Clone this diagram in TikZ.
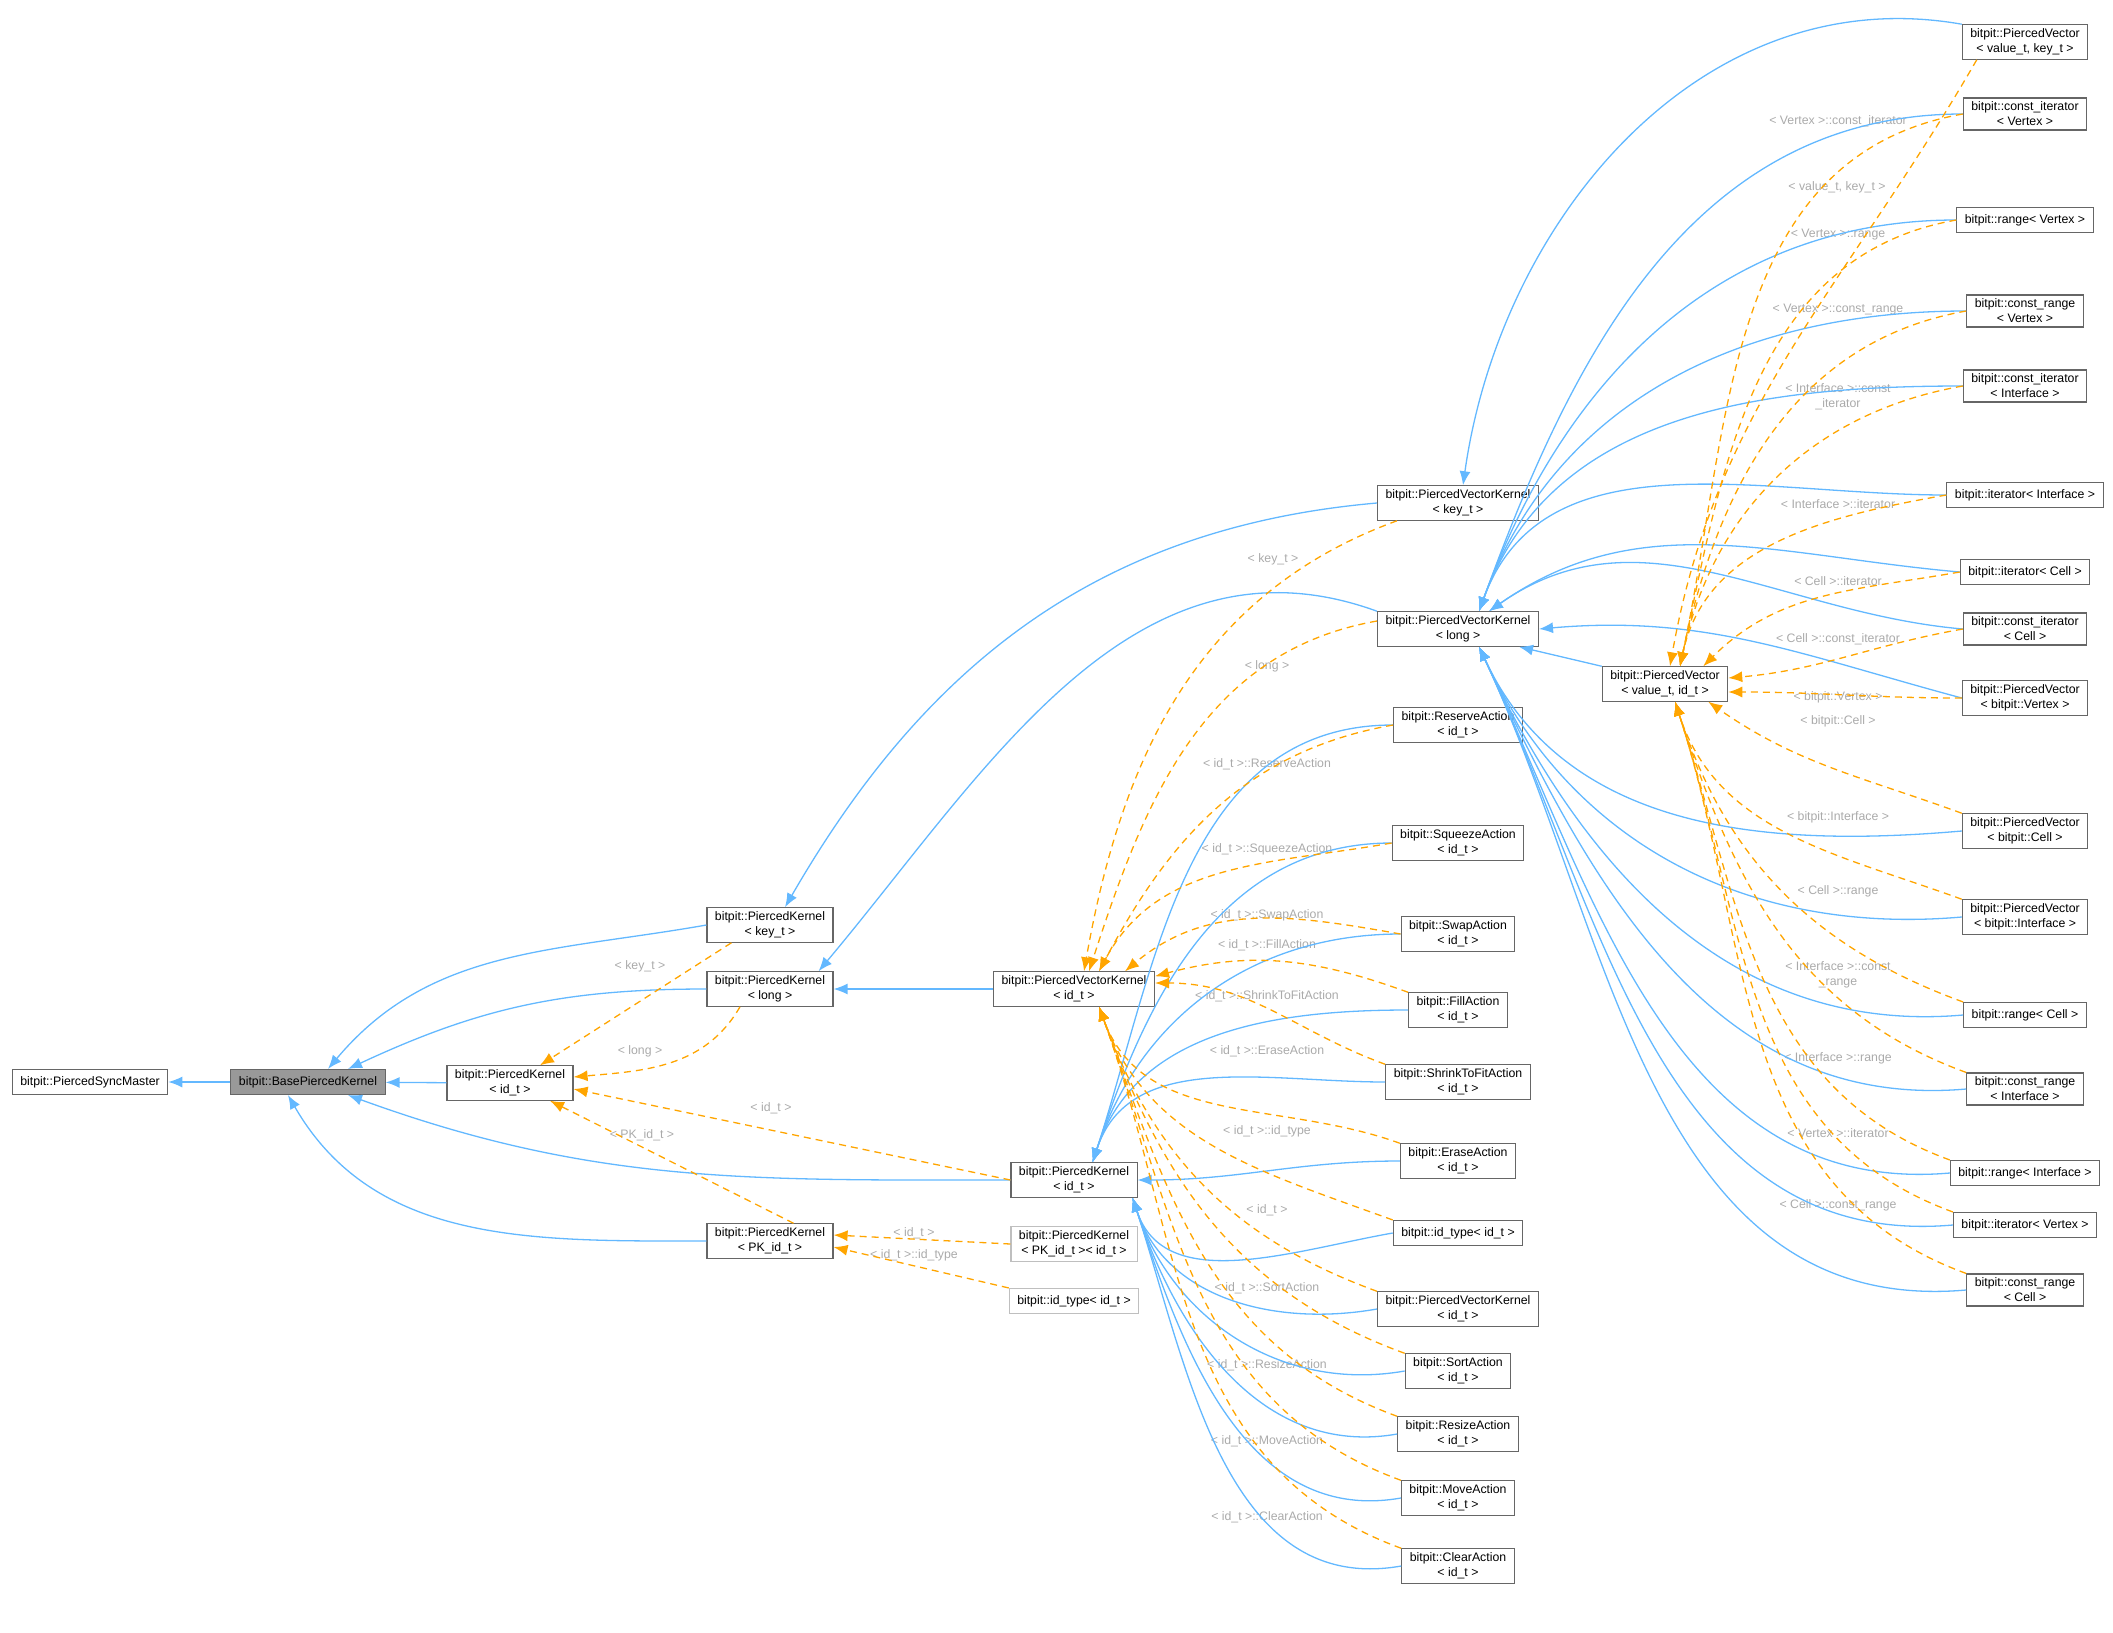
\documentclass[tikz,border=0pt]{standalone}
\usepackage{fontspec}
\setmainfont{Liberation Sans}
\usetikzlibrary{arrows.meta}
\definecolor{inh}{RGB}{99,184,255}
\definecolor{tpl}{RGB}{255,165,0}
\definecolor{lbl}{RGB}{170,170,170}
\tikzset{
  cls/.style={rectangle, draw=black!60, line width=1.1pt, fill=white, align=center, inner xsep=8pt, inner ysep=4pt, minimum height=25pt, font=\fontsize{12.3}{15}\selectfont},
  clsg/.style={cls, draw=black!25},
  inhe/.style={draw=inh, line width=1.3pt, -{Latex[length=14pt,width=11pt]}},
  dep/.style={draw=tpl, line width=1.3pt, dashed, dash pattern=on 7pt off 5pt, -{Latex[length=14pt,width=11pt]}},
  elbl/.style={text=lbl, align=center, inner sep=1pt, font=\fontsize{12.3}{15}\selectfont}
}
\begin{document}
\begin{tikzpicture}[x=1pt,y=-1pt]
  \useasboundingbox (0,0) rectangle (2113,1633);
  % left part
  \node[cls] (sync) at (90,1082) {bitpit::PiercedSyncMaster};
  \node[cls, fill=black!40] (base) at (308,1082) {bitpit::BasePiercedKernel};
  \node[cls] (pkid) at (510,1083) {bitpit::PiercedKernel\\< id\_t >};
  \node[cls] (pkkey) at (770,925) {bitpit::PiercedKernel\\< key\_t >};
  \node[cls] (pklong) at (770,989) {bitpit::PiercedKernel\\< long >};
  \node[cls] (pkpk) at (770,1241) {bitpit::PiercedKernel\\< PK\_id\_t >};
  \node[clsg] (pkpkid) at (1074,1244) {bitpit::PiercedKernel\\< PK\_id\_t >< id\_t >};
  \node[clsg] (idtypeg) at (1074,1301) {bitpit::id\_type< id\_t >};
  \node[cls] (pvkid) at (1074,989) {bitpit::PiercedVectorKernel\\< id\_t >};
  \node[cls] (pkidm) at (1074,1180) {bitpit::PiercedKernel\\< id\_t >};
  % middle column
  \node[cls] (pvkkey) at (1458,503) {bitpit::PiercedVectorKernel\\< key\_t >};
  \node[cls] (pvklong) at (1458,629) {bitpit::PiercedVectorKernel\\< long >};
  \node[cls] (pvid) at (1665,684) {bitpit::PiercedVector\\< value\_t, id\_t >};
  \node[cls] (reserve) at (1458,725) {bitpit::ReserveAction\\< id\_t >};
  \node[cls] (squeeze) at (1458,843) {bitpit::SqueezeAction\\< id\_t >};
  \node[cls] (swap) at (1458,934) {bitpit::SwapAction\\< id\_t >};
  \node[cls] (fill) at (1458,1010) {bitpit::FillAction\\< id\_t >};
  \node[cls] (shrink) at (1458,1082) {bitpit::ShrinkToFitAction\\< id\_t >};
  \node[cls] (erase) at (1458,1161) {bitpit::EraseAction\\< id\_t >};
  \node[cls] (idtype) at (1458,1233) {bitpit::id\_type< id\_t >};
  \node[cls] (pvkidr) at (1458,1309) {bitpit::PiercedVectorKernel\\< id\_t >};
  \node[cls] (sort) at (1458,1371) {bitpit::SortAction\\< id\_t >};
  \node[cls] (resize) at (1458,1434) {bitpit::ResizeAction\\< id\_t >};
  \node[cls] (move) at (1458,1498) {bitpit::MoveAction\\< id\_t >};
  \node[cls] (clear) at (1458,1566) {bitpit::ClearAction\\< id\_t >};
  % right column
  \node[cls] (pvkeyv) at (2025,42) {bitpit::PiercedVector\\< value\_t, key\_t >};
  \node[cls] (civ) at (2025,114) {bitpit::const\_iterator\\< Vertex >};
  \node[cls] (rv) at (2025,220) {bitpit::range< Vertex >};
  \node[cls] (crv) at (2025,311) {bitpit::const\_range\\< Vertex >};
  \node[cls] (cii) at (2025,386) {bitpit::const\_iterator\\< Interface >};
  \node[cls] (ii) at (2025,495) {bitpit::iterator< Interface >};
  \node[cls] (ic) at (2025,572) {bitpit::iterator< Cell >};
  \node[cls] (cic) at (2025,629) {bitpit::const\_iterator\\< Cell >};
  \node[cls] (pvv) at (2025,698) {bitpit::PiercedVector\\< bitpit::Vertex >};
  \node[cls] (pvc) at (2025,831) {bitpit::PiercedVector\\< bitpit::Cell >};
  \node[cls] (pvi) at (2025,917) {bitpit::PiercedVector\\< bitpit::Interface >};
  \node[cls] (rc) at (2025,1015) {bitpit::range< Cell >};
  \node[cls] (cri) at (2025,1089) {bitpit::const\_range\\< Interface >};
  \node[cls] (ri) at (2025,1173) {bitpit::range< Interface >};
  \node[cls] (iv) at (2025,1225) {bitpit::iterator< Vertex >};
  \node[cls] (crc) at (2025,1290) {bitpit::const\_range\\< Cell >};
  %
  % edge labels
  \node[elbl] (lkey) at (640,966) {< key\_t >};
  \node[elbl] (llong) at (640,1051) {< long >};
  \node[elbl] (lid) at (771,1108) {< id\_t >};
  \node[elbl] (lpk) at (642,1135) {< PK\_id\_t >};
  \node[elbl] (lpkid) at (914,1233) {< id\_t >};
  \node[elbl] (lpktype) at (914,1255) {< id\_t >::id\_type};
  \node[elbl] (lvkey) at (1273,559) {< key\_t >};
  \node[elbl] (lvlong) at (1267,666) {< long >};
  \node[elbl] (lres) at (1267,764) {< id\_t >::ReserveAction};
  \node[elbl] (lsq) at (1267,849) {< id\_t >::SqueezeAction};
  \node[elbl] (lsw) at (1267,915) {< id\_t >::SwapAction};
  \node[elbl] (lfi) at (1267,945) {< id\_t >::FillAction};
  \node[elbl] (lsh) at (1267,996) {< id\_t >::ShrinkToFitAction};
  \node[elbl] (ler) at (1267,1051) {< id\_t >::EraseAction};
  \node[elbl] (lty) at (1267,1131) {< id\_t >::id\_type};
  \node[elbl] (lvk) at (1267,1210) {< id\_t >};
  \node[elbl] (lso) at (1267,1288) {< id\_t >::SortAction};
  \node[elbl] (lrs) at (1267,1365) {< id\_t >::ResizeAction};
  \node[elbl] (lmo) at (1267,1441) {< id\_t >::MoveAction};
  \node[elbl] (lcl) at (1267,1517) {< id\_t >::ClearAction};
  \node[elbl] (lciv) at (1838,121) {< Vertex >::const\_iterator};
  \node[elbl] (lvk2) at (1837,187) {< value\_t, key\_t >};
  \node[elbl] (lrv) at (1838,235) {< Vertex >::range};
  \node[elbl] (lcrv) at (1838,310) {< Vertex >::const\_range};
  \node[elbl] (lcii) at (1838,397) {< Interface >::const\\\_iterator};
  \node[elbl] (lii) at (1838,504) {< Interface >::iterator};
  \node[elbl] (lic) at (1838,581) {< Cell >::iterator};
  \node[elbl] (lcic) at (1838,639) {< Cell >::const\_iterator};
  \node[elbl] (lpvv) at (1838,697) {< bitpit::Vertex >};
  \node[elbl] (lpvc) at (1838,721) {< bitpit::Cell >};
  \node[elbl] (lpvi) at (1838,817) {< bitpit::Interface >};
  \node[elbl] (lrc) at (1838,891) {< Cell >::range};
  \node[elbl] (lcri) at (1838,975) {< Interface >::const\\\_range};
  \node[elbl] (lri) at (1838,1058) {< Interface >::range};
  \node[elbl] (liv) at (1838,1133) {< Vertex >::iterator};
  \node[elbl] (lcrc) at (1838,1205) {< Cell >::const\_range};
  %
  % inheritance
  \draw[inhe] (base) -- (sync);
  \draw[inhe] (pkid) -- (base);
  \draw[inhe] (pkkey.west) to[out=190,in=50] ([xshift=20pt]base.north);
  \draw[inhe] (pklong.west) to[out=180,in=25] ([xshift=40pt]base.north);
  \draw[inhe] (pkidm.west) to[out=180,in=-20] ([xshift=40pt]base.south);
  \draw[inhe] (pkpk.west) to[out=180,in=-60] ([xshift=-20pt]base.south);
  \draw[inhe] (pvkkey.west) to[out=185,in=60] ([xshift=15pt]pkkey.north);
  \draw[inhe] (pvklong.north west) to[out=160,in=50] ([xshift=-15pt]pklong.north east);
  \draw[inhe] (pvkid) -- (pklong);
  \draw[inhe] (pvkeyv.north west) to[out=170,in=82] ([xshift=5pt]pvkkey.north);
  \draw[inhe] (pvid.north west) -- ([xshift=-20pt]pvklong.south east);
  \foreach \s in {civ,rv,crv,cii,ii}
    \draw[inhe] (\s.west) to[out=180,in=70] ([xshift=-60pt]pvklong.north east);
  \foreach \s in {ic,cic}
    \draw[inhe] (\s.west) to[out=175,in=35] ([xshift=-50pt]pvklong.north east);
  \draw[inhe] (pvv.west) to[out=165,in=5] (pvklong.east);
  \foreach \s in {pvc,pvi,rc,cri,ri,iv,crc}
    \draw[inhe] (\s.west) to[out=185,in=-65] ([xshift=-60pt]pvklong.south east);
  \foreach \s in {reserve,squeeze,swap,fill,shrink}
    \draw[inhe] (\s.west) to[out=180,in=72] ([xshift=-45pt]pkidm.north east);
  \draw[inhe] (erase.west) to[out=180,in=0] (pkidm.east);
  \foreach \s in {idtype,pvkidr,sort,resize,move,clear}
    \draw[inhe] (\s.west) to[out=190,in=-72] ([xshift=-5pt]pkidm.south east);
  %
  % template instances
  \draw[dep] ([xshift=25pt]pkkey.south west) -- ([xshift=30pt]pkid.north);
  \draw[dep] ([xshift=-30pt]pklong.south) to[out=-120,in=5] ([yshift=6pt]pkid.east);
  \draw[dep] (pkidm.west) -- ([yshift=-6pt]pkid.east);
  \draw[dep] ([xshift=-40pt]pkpk.north east) -- ([xshift=40pt]pkid.south);
  \draw[dep] (pkpkid.west) -- ([yshift=6pt]pkpk.east);
  \draw[dep] (idtypeg.north west) -- ([yshift=-6pt]pkpk.east);
  \draw[dep] ([xshift=20pt]pvkkey.south west) to[out=-160,in=80] ([xshift=10pt]pvkid.north);
  \draw[dep] ([yshift=8pt]pvklong.west) to[out=190,in=72] ([xshift=15pt]pvkid.north);
  \foreach \s in {reserve,squeeze}
    \draw[dep] (\s.west) to[out=190,in=62] ([xshift=25pt]pvkid.north);
  \draw[dep] (swap.west) to[out=170,in=40] ([xshift=-30pt]pvkid.north east);
  \draw[dep] (fill.north west) to[out=160,in=15] ([yshift=-5pt]pvkid.north east);
  \draw[dep] (shrink.north west) to[out=160,in=0] ([yshift=6pt]pvkid.east);
  \foreach \s in {erase,idtype,pvkidr,sort,resize,move,clear}
    \draw[dep] (\s.north west) to[out=160,in=-70] ([xshift=25pt]pvkid.south);
  \draw[dep] ([xshift=15pt]pvkeyv.south west) to[out=-120,in=80] ([xshift=5pt]pvid.north);
  \foreach \s in {civ,rv,crv,cii,ii}
    \draw[dep] (\s.west) to[out=190,in=78] ([xshift=15pt]pvid.north);
  \draw[dep] (ic.west) to[out=190,in=45] ([xshift=-25pt]pvid.north east);
  \draw[dep] (cic.west) to[out=190,in=5] ([yshift=6pt]pvid.east);
  \draw[dep] (pvv.west) to[out=180,in=0] ([yshift=-8pt]pvid.east);
  \draw[dep] (pvc.north west) to[out=160,in=-35] ([xshift=-20pt]pvid.south east);
  \foreach \s in {pvi,rc,cri,ri,iv,crc}
    \draw[dep] (\s.north west) to[out=160,in=-72] ([xshift=10pt]pvid.south);
\end{tikzpicture}
\end{document}
